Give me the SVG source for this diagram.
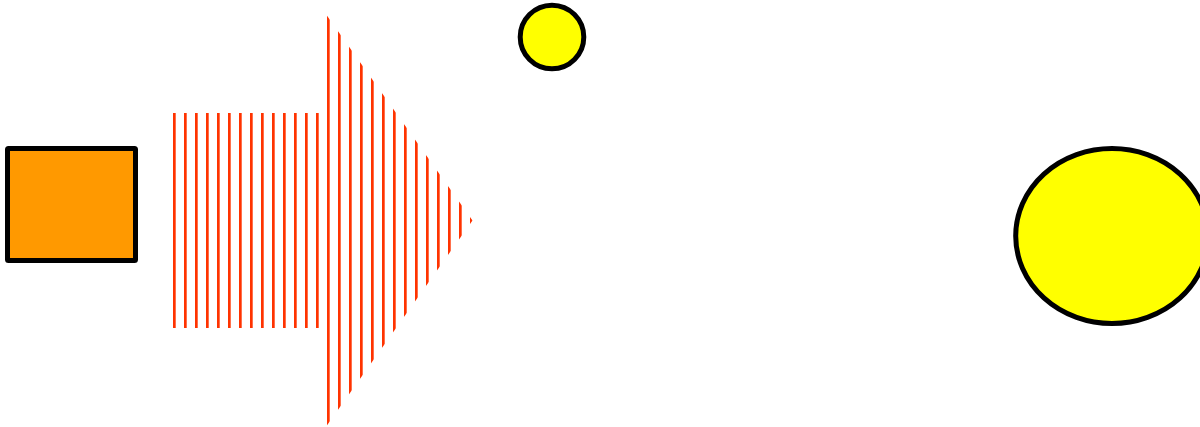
<svg xmlns="http://www.w3.org/2000/svg" width="1200" height="427" viewBox="0 0 1200 427">
  <style>
    .node { stroke: #000; stroke-width: 5; stroke-linejoin: round; }
    .sun { fill: #ffff00; }
  </style>
  <defs>
    <pattern id="hatch" patternUnits="userSpaceOnUse" x="173" y="0" width="11" height="427">
      <rect x="0" y="0" width="2.7" height="427" fill="#ff3300"/>
    </pattern>
  </defs>
  <rect width="1200" height="427" fill="#ffffff"/>
  <g id="box">
    <rect class="node" x="7.5" y="148.5" width="128" height="112" rx="1" fill="#ff9900"/>
  </g>
  <g id="connectors">
    <path d="M173,113 H321 V15 L326.5,15 L472.5,220.5 L326.5,426 H321 V328 H173 Z" fill="url(#hatch)"/>
  </g>
  <g id="small-circle">
    <circle class="node sun" cx="552" cy="37" r="31.8"/>
  </g>
  <g id="large-ellipse">
    <ellipse class="node sun" cx="1112" cy="236" rx="96.3" ry="87.5"/>
  </g>
</svg>
